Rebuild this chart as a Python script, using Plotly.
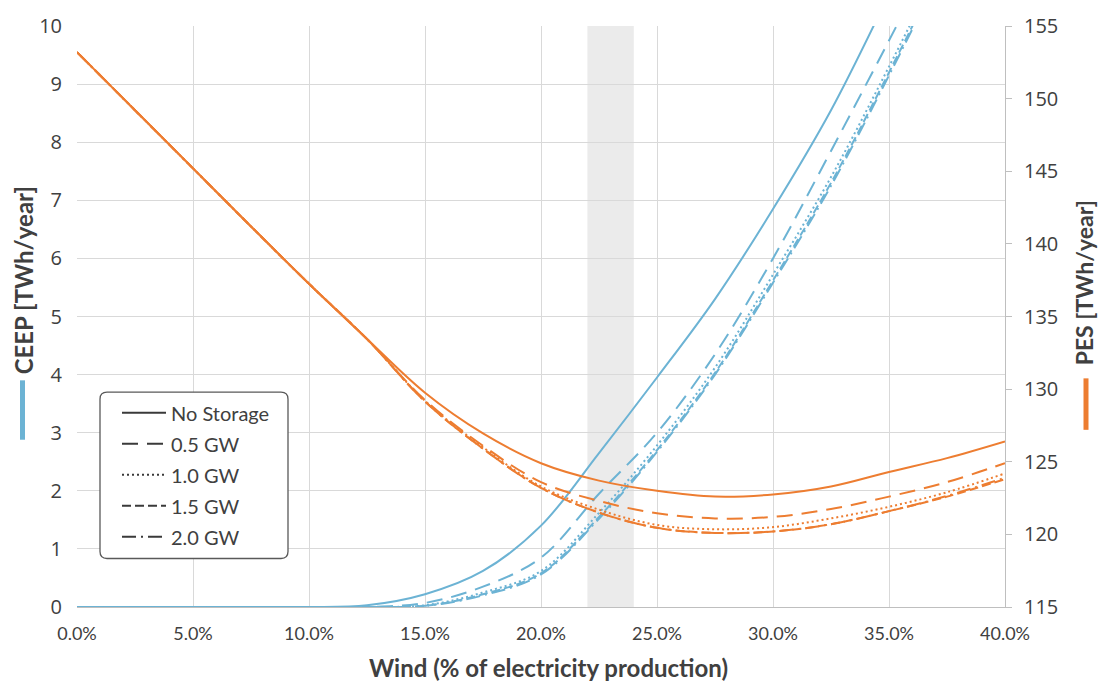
import plotly.graph_objects as go

# ---------------- data ----------------
wind_pct = [0, 2.5, 5, 7.5, 10, 12.5, 15, 17.5, 20, 22.5, 25, 27.5, 30, 32.5, 35, 37.5, 40]

series_names = ["No Storage", "0.5 GW", "1.0 GW", "1.5 GW", "2.0 GW"]

# CEEP [TWh/year] (left axis) - None where the curve has left the chart
ceep_no_storage = [0, 0, 0, 0, 0, 0.03, 0.22, 0.62, 1.4, 2.65, 3.95, 5.3, 6.85, 8.55, 10.55, None, None]
ceep_0_5gw = [0, 0, 0, 0, 0, 0, 0.07, 0.35, 0.85, 1.95, 3.0, 4.35, 6.0, 7.85, 9.75, 11.7, None]
ceep_1_0gw = [0, 0, 0, 0, 0, 0, 0.03, 0.25, 0.62, 1.62, 2.78, 4.12, 5.72, 7.4, 9.3, 11.3, None]
ceep_1_5gw = [0, 0, 0, 0, 0, 0, 0.02, 0.22, 0.58, 1.55, 2.7, 4.03, 5.62, 7.3, 9.2, 11.2, None]
ceep_2_0gw = [0, 0, 0, 0, 0, 0, 0.02, 0.2, 0.56, 1.52, 2.67, 4.0, 5.58, 7.25, 9.15, 11.15, None]

# PES [TWh/year] (right axis)
pes_no_storage = [153.2, 149.2, 145.2, 141.2, 137.25, 133.45, 129.75, 126.95, 124.9, 123.7, 123.0, 122.6, 122.75, 123.3, 124.3, 125.25, 126.4]
pes_0_5gw = [153.2, 149.2, 145.2, 141.2, 137.25, 133.45, 129.25, 126.1, 123.6, 122.3, 121.45, 121.1, 121.2, 121.75, 122.6, 123.6, 124.9]
pes_1_0gw = [153.2, 149.2, 145.2, 141.2, 137.25, 133.45, 129.2, 126.0, 123.3, 121.7, 120.65, 120.35, 120.5, 121.1, 121.9, 122.9, 124.2]
pes_1_5gw = [153.2, 149.2, 145.2, 141.2, 137.25, 133.45, 129.15, 125.9, 123.2, 121.5, 120.45, 120.1, 120.2, 120.7, 121.6, 122.6, 123.8]
pes_2_0gw = [153.2, 149.2, 145.2, 141.2, 137.25, 133.45, 129.15, 125.9, 123.2, 121.5, 120.45, 120.1, 120.2, 120.7, 121.6, 122.65, 123.9]

highlight_band = [22, 24]  # shaded wind share range (%)

x_ticks = [0, 5, 10, 15, 20, 25, 30, 35, 40]
x_tick_labels = ["0.0%", "5.0%", "10.0%", "15.0%", "20.0%", "25.0%", "30.0%", "35.0%", "40.0%"]
left_ticks = list(range(0, 11))
right_ticks = [115, 120, 125, 130, 135, 140, 145, 150, 155]

# ---------------- styles ----------------
BLUE = "#6cb3d4"
ORANGE = "#ed7d31"
TXT = "#404040"
GRID = "#d9d9d9"
dashes = ["solid", "16px,9px", "2px,3px", "9px,4px", "14px,5px,2px,5px"]

ceep_all = [ceep_no_storage, ceep_0_5gw, ceep_1_0gw, ceep_1_5gw, ceep_2_0gw]
pes_all = [pes_no_storage, pes_0_5gw, pes_1_0gw, pes_1_5gw, pes_2_0gw]

fig = go.Figure()

for name, vals, d in zip(series_names, pes_all, dashes):
    fig.add_trace(go.Scatter(
        x=wind_pct, y=vals, mode="lines", yaxis="y2", name=name,
        line=dict(color=ORANGE, width=2, dash=d, shape="spline", smoothing=1.0),
        showlegend=False, hoverinfo="skip"))

for name, vals, d in zip(series_names, ceep_all, dashes):
    fig.add_trace(go.Scatter(
        x=wind_pct, y=vals, mode="lines", yaxis="y", name=name,
        line=dict(color=BLUE, width=2, dash=d, shape="spline", smoothing=1.0),
        showlegend=False, hoverinfo="skip", connectgaps=False))

# legend-only entries (dark grey line styles)
for name, d in zip(series_names, dashes):
    fig.add_trace(go.Scatter(
        x=[None], y=[None], mode="lines", name=name, legendgroup=name,
        line=dict(color="#3a3a3a", width=2, dash=d), showlegend=True))

# rounded legend frame
L, R = 77, 1005
T, B = 20, 607
W, H = R - L, B - T
def px(x):
    return (x - L) / W
def py(y):
    return (B - y) / H
x0, x1, yt, yb = px(100), px(288), py(390), py(558)
rx, ry = 7 / W, 7 / H
path = (f"M {x0+rx},{yt} L {x1-rx},{yt} Q {x1},{yt} {x1},{yt-ry} "
        f"L {x1},{yb+ry} Q {x1},{yb} {x1-rx},{yb} L {x0+rx},{yb} "
        f"Q {x0},{yb} {x0},{yb+ry} L {x0},{yt-ry} Q {x0},{yt} {x0+rx},{yt} Z")

shapes = [
    dict(type="rect", xref="x", yref="paper", x0=highlight_band[0], x1=highlight_band[1],
         y0=0, y1=1, fillcolor="#ebebeb", line=dict(width=0), layer="below"),
    dict(type="path", xref="paper", yref="paper", path=path,
         fillcolor="white", line=dict(color="#595959", width=1.3), layer="above"),
    dict(type="line", xref="paper", yref="paper", x0=px(22.5), x1=px(22.5),
         y0=py(378), y1=py(438), line=dict(color=BLUE, width=5)),
    dict(type="line", xref="paper", yref="paper", x0=px(1086), x1=px(1086),
         y0=py(376), y1=py(428), line=dict(color=ORANGE, width=5)),
]

annotations = [
    dict(text="<b>CEEP [TWh/year]</b>", xref="paper", yref="paper", x=px(23), y=py(277),
         textangle=-90, showarrow=False, xanchor="center", yanchor="middle",
         font=dict(family="Lato", size=24, color=TXT)),
    dict(text="<b>PES [TWh/year]</b>", xref="paper", yref="paper", x=px(1084), y=py(280),
         textangle=-90, showarrow=False, xanchor="center", yanchor="middle",
         font=dict(family="Lato", size=23, color=TXT)),
    dict(text="<b>Wind (% of electricity production)</b>", xref="paper", yref="paper",
         x=px(548), y=py(668), showarrow=False, xanchor="center", yanchor="middle",
         font=dict(family="Lato", size=24, color=TXT)),
]

fig.update_layout(
    width=1102, height=686, autosize=False,
    margin=dict(l=L, r=1102 - R, t=T, b=686 - B, pad=0),
    paper_bgcolor="white", plot_bgcolor="rgba(0,0,0,0)",
    font=dict(family="Open Sans", color=TXT),
    xaxis=dict(range=[0, 40], tickmode="array", tickvals=x_ticks, ticktext=x_tick_labels,
               showgrid=True, gridcolor=GRID, gridwidth=1, zeroline=False,
               showline=True, linecolor="#bfbfbf", linewidth=1, ticks="",
               ticklabelstandoff=10, tickfont=dict(family="Lato", size=18, color=TXT)),
    yaxis=dict(range=[0, 10], tickvals=left_ticks, showgrid=True, gridcolor=GRID,
               gridwidth=1, zeroline=False, showline=False, ticks="",
               ticklabelstandoff=14, tickfont=dict(family="Open Sans", size=20, color=TXT)),
    yaxis2=dict(range=[115, 155], tickvals=right_ticks, overlaying="y", side="right",
                showgrid=False, zeroline=False, showline=True, linecolor="#bfbfbf",
                linewidth=1, ticks="outside", ticklen=6, tickcolor="#bfbfbf",
                ticklabelstandoff=8, tickfont=dict(family="Open Sans", size=20, color=TXT)),
    legend=dict(x=px(117), y=py(391), xanchor="left", yanchor="top",
                bgcolor="rgba(0,0,0,0)", borderwidth=0, itemwidth=44,
                traceorder="grouped", tracegroupgap=2,
                font=dict(family="Lato", size=20, color=TXT)),
    shapes=shapes, annotations=annotations, showlegend=True,
)

fig.write_html("out.html")
